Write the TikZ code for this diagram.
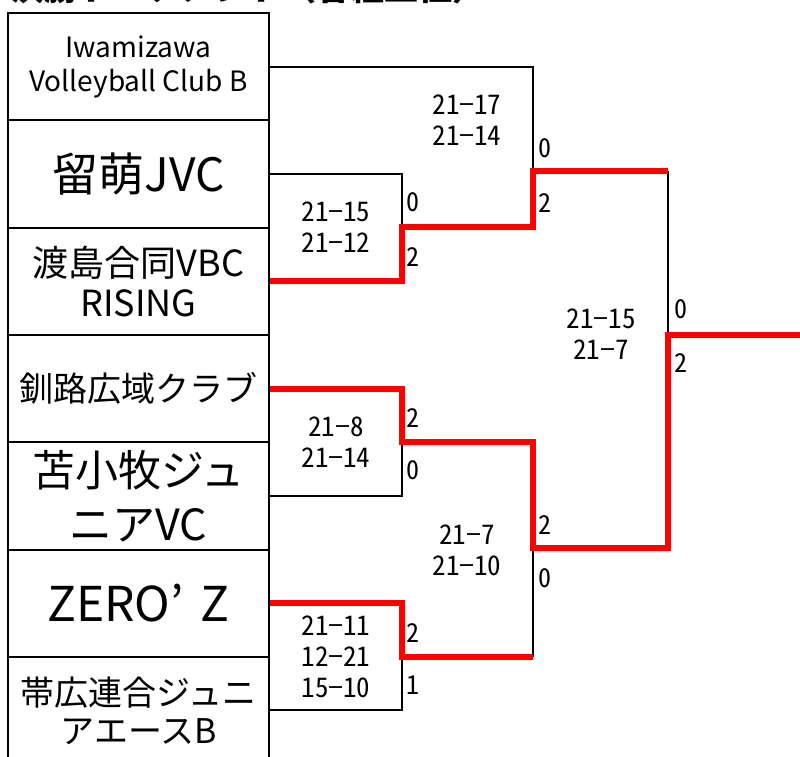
\documentclass[tikz,border=0pt]{standalone}
\usepackage{fontspec}
\setmainfont{Noto Sans CJK JP}
\newfontfamily\scorefont[RawFeature=+hwid]{Noto Sans CJK JP}
\begin{document}
\begin{tikzpicture}[x=1pt,y=-1pt,
  team/.style={draw=black,line width=2pt,minimum width=261pt,minimum height=107.3pt,inner sep=0pt,align=center},
  blk/.style={draw=black,line width=2pt},
  win/.style={draw=red,line width=6pt,line join=miter},
  score/.style={align=center,inner sep=0pt,font=\scorefont\fontsize{27}{31}\selectfont},
  setn/.style={inner sep=0pt,font=\scorefont\fontsize{26}{28}\selectfont}]
\useasboundingbox (0,0) rectangle (800,756);
\clip (0,0) rectangle (800,756);
% title (cut off at the top)
\node[anchor=base west,inner sep=0pt,font=\fontsize{34}{34}\selectfont\bfseries] (title) at (10,0) {決勝トーナメント（各組上位）};
% teams
\node[team,font=\fontsize{28}{34}\selectfont] (t1) at (138.5,66.65) {Iwamizawa\\Volleyball Club B};
\node[team,font=\fontsize{46}{50}\selectfont] (t2) at (138.5,173.95) {留萌JVC};
\node[team,font=\fontsize{36}{40}\selectfont] (t3) at (138.5,281.25) {渡島合同VBC\\RISING};
\node[team,font=\fontsize{34}{38}\selectfont] (t4) at (138.5,388.55) {釧路広域クラブ};
\node[team,font=\fontsize{43}{54}\selectfont] (t5) at (138.5,495.85) {苫小牧ジュ\\ニアVC};
\node[team,font=\fontsize{48}{52}\selectfont] (t6) at (138.5,603.15) {ZERO’\hspace{0.35em}Z};
\node[team,font=\fontsize{34}{38}\selectfont] (t7) at (138.5,710.45) {帯広連合ジュニ\\アエースB};
% junction coordinates
\coordinate (a1) at (402,173.95);
\coordinate (a2) at (402,281.25);
\coordinate (aout) at (402,227);
\coordinate (m1top) at (533,66.65);
\coordinate (m1bot) at (533,227);
\coordinate (m1out) at (533,171);
\coordinate (ftop) at (668,171);
\coordinate (fbot) at (668,548);
\coordinate (fout) at (668,335);
\coordinate (champ) at (802,335);
\coordinate (b1) at (402,388.55);
\coordinate (b2) at (402,495.85);
\coordinate (bout) at (402,442);
\coordinate (c1) at (402,603.15);
\coordinate (c2) at (402,710.45);
\coordinate (cout) at (402,657);
\coordinate (m2top) at (533,442);
\coordinate (m2bot) at (533,657);
\coordinate (m2out) at (533,548);
% black brackets
\draw[blk] (t2.east) -- (a1) -- (a2) -- (t3.east);
\draw[blk] (t1.east) -- (m1top) -- (m1bot);
\draw[blk] (t4.east) -- (b1) -- (b2) -- (t5.east);
\draw[blk] (t6.east) -- (c1) -- (c2) -- (t7.east);
\draw[blk] (m2top) -- (m2bot);
\draw[blk] (ftop) -- (fbot);
% winner paths
\draw[win] (t3.east) -- (a2) -- (aout) -- (m1bot) -- (m1out) -- (ftop);
\draw[win] (t4.east) -- (b1) -- (bout) -- (m2top) -- (m2out) -- (fbot) -- (fout) -- (champ);
\draw[win] (t6.east) -- (c1) -- (cout) -- (m2bot);
% match scores
\node[score] (s1) at (467,120.5) {21−17\\21−14};
\node[score] (sA) at (336,227.5) {21−15\\21−12};
\node[score] (sB) at (336,442) {21−8\\21−14};
\node[score] (sC) at (336,656.5) {21−11\\12−21\\15−10};
\node[score] (s2) at (467,550.5) {21−7\\21−10};
\node[score] (sF) at (601,334.5) {21−15\\21−7};
% set counts
\node[setn] (nA1) at (413,202) {0};
\node[setn] (nA2) at (413,257) {2};
\node[setn] (n11) at (545,148) {0};
\node[setn] (n12) at (545,203) {2};
\node[setn] (nB1) at (413,418) {2};
\node[setn] (nB2) at (413,470) {0};
\node[setn] (nC1) at (413,633) {2};
\node[setn] (nC2) at (413,685) {1};
\node[setn] (n21) at (545,525) {2};
\node[setn] (n22) at (545,578) {0};
\node[setn] (nF1) at (681,309) {0};
\node[setn] (nF2) at (681,363) {2};
\end{tikzpicture}
\end{document}
